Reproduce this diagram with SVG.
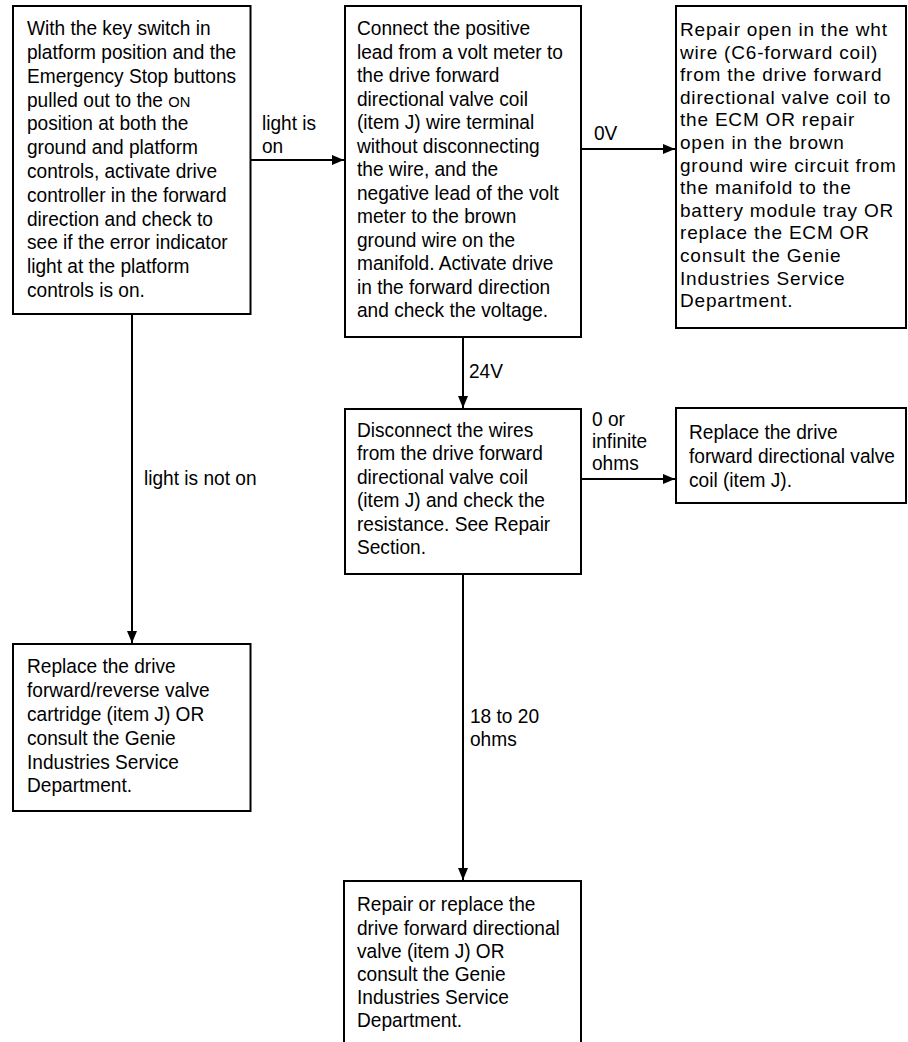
<svg xmlns="http://www.w3.org/2000/svg" width="908" height="1042" viewBox="0 0 908 1042">
<style>
.box{fill:#fff;stroke:#000;stroke-width:2}
.t{font-family:"Liberation Sans",Arial,Helvetica,sans-serif;font-size:19.5px;fill:#000}
.w{font-size:19px;letter-spacing:0.8px}
.sc{font-size:15px}
.c{fill:none;stroke:#000;stroke-width:2}
</style>
<defs>
<marker id="ah" markerUnits="userSpaceOnUse" markerWidth="12" markerHeight="10" refX="12" refY="5" orient="auto">
<path d="M0,0 L12,5 L0,10 z" fill="#000"/>
</marker>
</defs>
<rect width="908" height="1042" fill="#fff"/>
<g id="connectors">
<path class="c" d="M251,160 H344" marker-end="url(#ah)"/>
<path class="c" d="M581,149 H675" marker-end="url(#ah)"/>
<path class="c" d="M463,337 V408" marker-end="url(#ah)"/>
<path class="c" d="M581,479 H675" marker-end="url(#ah)"/>
<path class="c" d="M132,314 V643" marker-end="url(#ah)"/>
<path class="c" d="M463,574 V880" marker-end="url(#ah)"/>
<text class="t" transform="translate(262,0) scale(0.98 1)"><tspan x="0" y="130">light is</tspan><tspan x="0" y="153">on</tspan></text>
<text class="t" transform="translate(594,0) scale(0.98 1)"><tspan x="0" y="140">0V</tspan></text>
<text class="t" transform="translate(469,0) scale(0.98 1)"><tspan x="0" y="378">24V</tspan></text>
<text class="t" transform="translate(592,0) scale(0.98 1)"><tspan x="0" y="426">0 or</tspan><tspan x="0" y="448">infinite</tspan><tspan x="0" y="470">ohms</tspan></text>
<text class="t" transform="translate(144,0) scale(0.98 1)"><tspan x="0" y="485">light is not on</tspan></text>
<text class="t" transform="translate(470,0) scale(0.98 1)"><tspan x="0" y="723">18 to 20</tspan><tspan x="0" y="746">ohms</tspan></text>
</g>
<g id="n1">
<rect class="box" x="13" y="6" width="237.5" height="308"/>
<text class="t" transform="translate(27,0) scale(0.98 1)">
<tspan x="0" y="35.3">With the key switch in</tspan>
<tspan x="0" y="59.1">platform position and the</tspan>
<tspan x="0" y="82.9">Emergency Stop buttons</tspan>
<tspan x="0" y="106.7">pulled out to the <tspan class="sc">ON</tspan></tspan>
<tspan x="0" y="130.5">position at both the</tspan>
<tspan x="0" y="154.3">ground and platform</tspan>
<tspan x="0" y="178.1">controls, activate drive</tspan>
<tspan x="0" y="201.9">controller in the forward</tspan>
<tspan x="0" y="225.7">direction and check to</tspan>
<tspan x="0" y="249.5">see if the error indicator</tspan>
<tspan x="0" y="273.3">light at the platform</tspan>
<tspan x="0" y="297.1">controls is on.</tspan>
</text>
</g>
<g id="n2">
<rect class="box" x="345" y="6" width="236" height="331"/>
<text class="t" transform="translate(357,0) scale(0.98 1)">
<tspan x="0" y="35.5">Connect the positive</tspan>
<tspan x="0" y="59">lead from a volt meter to</tspan>
<tspan x="0" y="82.5">the drive forward</tspan>
<tspan x="0" y="106">directional valve coil</tspan>
<tspan x="0" y="129.5">(item J) wire terminal</tspan>
<tspan x="0" y="153">without disconnecting</tspan>
<tspan x="0" y="176.5">the wire, and the</tspan>
<tspan x="0" y="200">negative lead of the volt</tspan>
<tspan x="0" y="223.5">meter to the brown</tspan>
<tspan x="0" y="247">ground wire on the</tspan>
<tspan x="0" y="270.5">manifold. Activate drive</tspan>
<tspan x="0" y="294">in the forward direction</tspan>
<tspan x="0" y="317.5">and check the voltage.</tspan>
</text>
</g>
<g id="n3">
<rect class="box" x="676" y="6" width="230" height="322"/>
<text class="t w" x="680">
<tspan x="680" y="36">Repair open in the wht</tspan>
<tspan x="680" y="58.6">wire (C6-forward coil)</tspan>
<tspan x="680" y="81.2">from the drive forward</tspan>
<tspan x="680" y="103.8">directional valve coil to</tspan>
<tspan x="680" y="126.4">the ECM OR repair</tspan>
<tspan x="680" y="149">open in the brown</tspan>
<tspan x="680" y="171.6">ground wire circuit from</tspan>
<tspan x="680" y="194.2">the manifold to the</tspan>
<tspan x="680" y="216.8">battery module tray OR</tspan>
<tspan x="680" y="239.4">replace the ECM OR</tspan>
<tspan x="680" y="262">consult the Genie</tspan>
<tspan x="680" y="284.6">Industries Service</tspan>
<tspan x="680" y="307.2">Department.</tspan>
</text>
</g>
<g id="n4">
<rect class="box" x="345" y="409" width="236" height="165"/>
<text class="t" transform="translate(357,0) scale(0.98 1)">
<tspan x="0" y="437">Disconnect the wires</tspan>
<tspan x="0" y="460.5">from the drive forward</tspan>
<tspan x="0" y="484">directional valve coil</tspan>
<tspan x="0" y="507.5">(item J) and check the</tspan>
<tspan x="0" y="531">resistance. See Repair</tspan>
<tspan x="0" y="554.5">Section.</tspan>
</text>
</g>
<g id="n5">
<rect class="box" x="676" y="408" width="230" height="95"/>
<text class="t" transform="translate(689,0) scale(0.98 1)">
<tspan x="0" y="439.5">Replace the drive</tspan>
<tspan x="0" y="463.5">forward directional valve</tspan>
<tspan x="0" y="487.5">coil (item J).</tspan>
</text>
</g>
<g id="n6">
<rect class="box" x="13" y="644" width="237.5" height="167"/>
<text class="t" transform="translate(27,0) scale(0.98 1)">
<tspan x="0" y="673.5">Replace the drive</tspan>
<tspan x="0" y="697.3">forward/reverse valve</tspan>
<tspan x="0" y="721.1">cartridge (item J) OR</tspan>
<tspan x="0" y="744.9">consult the Genie</tspan>
<tspan x="0" y="768.7">Industries Service</tspan>
<tspan x="0" y="792.5">Department.</tspan>
</text>
</g>
<g id="n7">
<rect class="box" x="344" y="881" width="237" height="175"/>
<text class="t" transform="translate(357,0) scale(0.98 1)">
<tspan x="0" y="911.5">Repair or replace the</tspan>
<tspan x="0" y="934.6">drive forward directional</tspan>
<tspan x="0" y="957.7">valve (item J) OR</tspan>
<tspan x="0" y="980.8">consult the Genie</tspan>
<tspan x="0" y="1003.9">Industries Service</tspan>
<tspan x="0" y="1027">Department.</tspan>
</text>
</g>
</svg>
